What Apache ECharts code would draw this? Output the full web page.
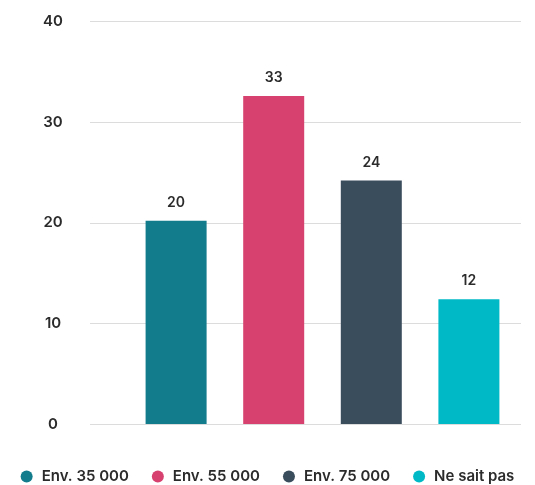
<!DOCTYPE html>
<html><head><meta charset="utf-8">
<script src="https://cdn.jsdelivr.net/npm/echarts@6/dist/echarts.min.js"></script>
<style>html,body{margin:0;padding:0;background:#fff}#c{width:535px;height:485px}</style>
</head><body><div id="c"></div>
<script>
const seriesNames = ['Env. 35 000', 'Env. 55 000', 'Env. 75 000', 'Ne sait pas'];
const seriesValues = [20.2, 32.6, 24.2, 12.4];
const seriesColors = ['#127B8C', '#D64170', '#3A4D5C', '#00B9C6'];
const yTicks = [0, 10, 20, 30, 40];

const font = 'Inter, "Noto Sans", sans-serif';
const chart = echarts.init(document.getElementById('c'));
const series = seriesNames.map((n, i) => ({
  name: n, type: 'bar', xAxisIndex: 1, yAxisIndex: 1,
  data: [seriesValues[i]],
  barWidth: 61, barGap: '60%',
  itemStyle: { color: seriesColors[i] },
  label: { show: true, position: 'top', distance: 11, color: '#2b2b2b',
    fontFamily: font, fontWeight: 600, fontSize: 14,
    formatter: p => Math.round(p.value) },
  animation: false
}));
chart.setOption({
  animation: false,
  grid: [
    { left: 90, right: 14, top: 21.5, bottom: 61 },
    { left: 124, right: 14, top: 21.5, bottom: 61 }
  ],
  legend: {
    bottom: -4, left: 'center', icon: 'circle', itemWidth: 20, itemHeight: 12,
    itemGap: 23, symbolKeepAspect: true,
    textStyle: { color: '#2b2b2b', fontFamily: font, fontWeight: 600, fontSize: 15 },
    data: seriesNames
  },
  xAxis: [
    { type: 'category', gridIndex: 0, data: [''], show: false },
    { type: 'category', gridIndex: 1, data: [''], show: false }
  ],
  yAxis: [
    { type: 'value', gridIndex: 0, min: yTicks[0], max: yTicks[yTicks.length - 1], interval: 10,
      axisLine: { show: false }, axisTick: { show: false },
      splitLine: { lineStyle: { color: '#dcdcdc', width: 1 } },
      axisLabel: { color: '#2b2b2b', fontFamily: font, fontWeight: 600, fontSize: 15,
        align: 'center', margin: 37 } },
    { type: 'value', gridIndex: 1, min: yTicks[0], max: yTicks[yTicks.length - 1], interval: 10,
      show: false, splitLine: { show: false } }
  ],
  series: series
});
</script></body></html>
